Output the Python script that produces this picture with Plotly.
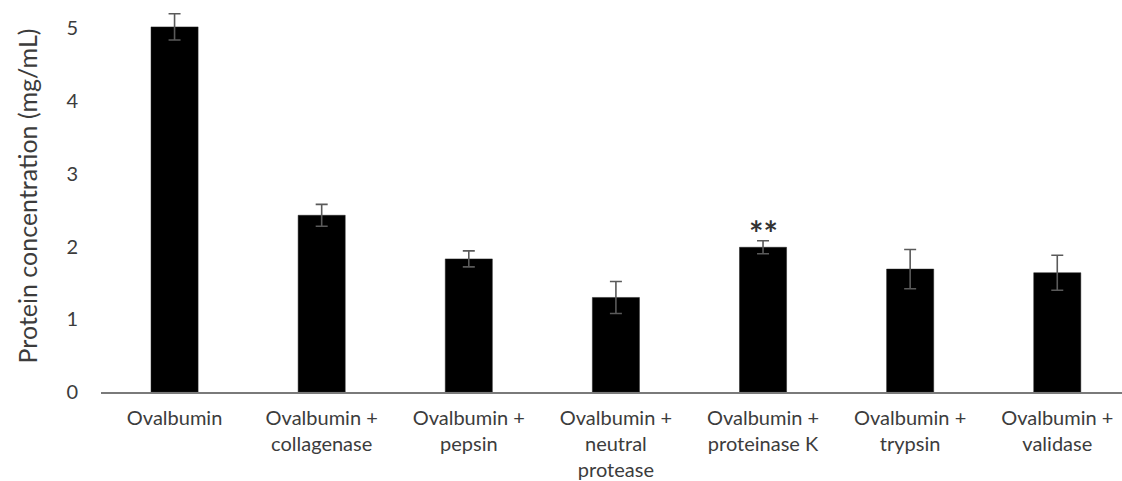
import plotly.graph_objects as go

categories = ["Ovalbumin", "Ovalbumin +<br>collagenase", "Ovalbumin +<br>pepsin",
              "Ovalbumin +<br>neutral<br>protease", "Ovalbumin +<br>proteinase K",
              "Ovalbumin +<br>trypsin", "Ovalbumin +<br>validase"]
values = [5.02, 2.43, 1.83, 1.30, 1.99, 1.69, 1.64]
errors = [0.18, 0.15, 0.11, 0.22, 0.09, 0.27, 0.24]
y_ticks = [0, 1, 2, 3, 4, 5]
marker_text = ["", "", "", "", "**", "", ""]

FONT = "Lato, 'DejaVu Sans', sans-serif"
TXT = "#3c3c3c"

fig = go.Figure()
fig.add_trace(go.Bar(
    x=list(range(len(categories))), y=values,
    width=0.32,
    marker=dict(color="#000000", line=dict(color="#222222", width=0.5)),
    error_y=dict(type="data", array=errors, visible=True,
                 color="#5a5a5a", thickness=1.6, width=6),
    showlegend=False,
))

for i, t in enumerate(marker_text):
    if t:
        fig.add_annotation(x=i, y=values[i] + errors[i], text="<b>" + t + "</b>",
                           showarrow=False, yanchor="bottom", yshift=-14,
                           font=dict(family=FONT, size=34, color="#333333"))

fig.update_layout(
    width=1122, height=481,
    margin=dict(l=101, r=0, t=0, b=89),
    plot_bgcolor="white", paper_bgcolor="white",
    font=dict(family=FONT, size=20, color=TXT),
)
fig.update_xaxes(
    tickmode="array", tickvals=list(range(len(categories))), ticktext=categories,
    range=[-0.5, 6.44], automargin=False,
    showline=True, linecolor="#7a7a7a", linewidth=2,
    ticks="", showgrid=False, zeroline=False,
    tickfont=dict(family=FONT, size=20, color=TXT),
    ticklabelstandoff=7,
)
fig.update_yaxes(
    range=[0, 5.39], tickmode="array", tickvals=y_ticks, automargin=False,
    showline=False, showgrid=False, zeroline=False, ticks="",
    tickfont=dict(family=FONT, size=20, color=TXT),
    ticklabelstandoff=22,
    title=dict(text="Protein concentration (mg/mL)",
               font=dict(family=FONT, size=25, color=TXT), standoff=21),
)

fig.write_html("out.html", config={"displayModeBar": False},
               post_script="document.body.style.margin='0';")
